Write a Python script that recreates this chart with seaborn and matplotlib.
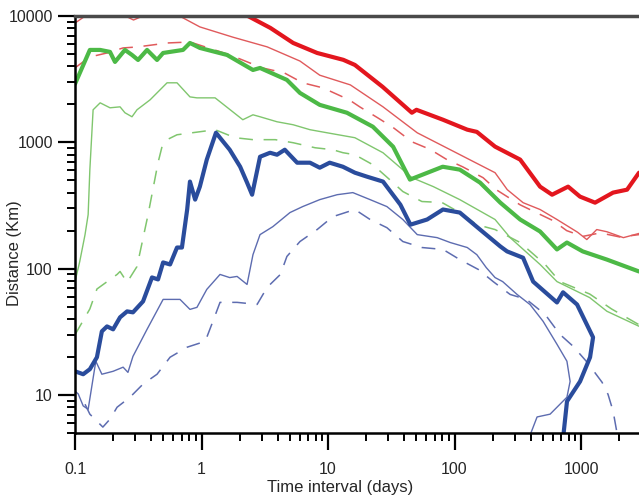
import matplotlib
matplotlib.use("Agg")
import matplotlib.pyplot as plt
from matplotlib.ticker import FuncFormatter, LogLocator
import seaborn as sns

# ---- data (x: days, y: km) ----
red_thick_x = [2.2, 3.5, 5.3, 8.2, 13.2, 16.3, 27, 46, 50, 81, 126, 150, 209, 330, 474, 590, 790, 980, 1290, 1790, 2310, 2870]
red_thick_y = [10300, 8050, 6120, 5100, 4500, 4100, 2750, 1715, 1810, 1510, 1260, 1210, 925, 730, 446, 385, 446, 372, 333, 400, 422, 575]

red_thin_x = [0.1, 0.124, 0.19, 0.25, 0.29, 0.36, 0.56, 0.67, 0.97, 1.77, 3.3, 6.0, 8.6, 15.0, 27.2, 50.7, 92.5, 209, 261, 348, 474, 645, 940, 1110, 1330, 1600, 2160, 2870]
red_thin_y = [8800, 10200, 9800, 10000, 9300, 10200, 10500, 10000, 8200, 6800, 5700, 4400, 3400, 2850, 1910, 1190, 874, 575, 422, 333, 294, 245, 194, 170, 204, 196, 176, 190]

red_dash_x = [0.1, 0.131, 0.179, 0.24, 0.31, 0.54, 0.81, 1.68, 3.0, 4.5, 6.3, 9.1, 14.7, 17.8, 24.8, 32.7, 46, 64, 87, 116, 168, 215, 330, 600, 770, 1030, 1420, 2030, 2870]
red_dash_y = [3890, 4740, 5100, 5590, 5690, 6120, 6230, 4920, 3890, 3550, 2960, 2700, 2170, 1910, 1560, 1310, 1010, 880, 730, 640, 525, 420, 320, 240, 200, 180, 192, 178, 186]

green_thick_x = [0.1, 0.131, 0.158, 0.189, 0.207, 0.248, 0.282, 0.315, 0.371, 0.445, 0.497, 0.714, 0.81, 0.97, 1.59, 2.55, 2.9, 4.73, 6.0, 8.6, 14.1, 22.6, 32.7, 44.4, 80.6, 110, 159, 230, 330, 474, 645, 773, 1030, 1600, 2870]
green_thick_y = [2900, 5390, 5390, 5200, 4330, 5390, 4920, 4490, 5390, 4490, 5100, 5390, 6120, 5590, 4920, 3740, 3880, 3120, 2460, 1980, 1715, 1330, 923, 507, 641, 608, 480, 333, 245, 197, 142, 161, 137, 118, 95]

green_thin_x = [0.1, 0.109, 0.120, 0.127, 0.131, 0.139, 0.158, 0.189, 0.227, 0.248, 0.282, 0.309, 0.392, 0.534, 0.64, 0.81, 0.92, 1.28, 2.12, 2.55, 2.9, 3.95, 5.3, 7.2, 9.8, 16.3, 27.2, 46.1, 68, 110, 209, 275, 474, 645, 1170, 1600, 2870]
green_thin_y = [79, 114, 186, 268, 608, 1810, 2055, 1877, 1910, 1715, 1594, 1810, 2170, 2960, 2960, 2290, 2250, 2250, 1510, 1652, 1594, 1455, 1378, 1259, 1191, 1088, 827, 525, 446, 352, 245, 176, 108, 79, 59, 46, 35]

green_dash_x = [0.1, 0.131, 0.149, 0.215, 0.227, 0.258, 0.309, 0.378, 0.453, 0.487, 0.534, 0.64, 0.97, 1.28, 1.84, 2.55, 3.83, 5.3, 7.9, 10.9, 13.1, 16.3, 22.6, 30.7, 39.0, 55.2, 79.5, 110, 150, 209, 330, 520, 680, 1170, 1740, 2870]
green_dash_y = [30, 48, 69, 90, 95, 78, 104, 268, 690, 923, 1050, 1148, 1213, 1259, 1088, 1050, 1050, 993, 906, 874, 828, 798, 665, 507, 408, 340, 334, 278, 223, 204, 161, 108, 79, 63, 48, 36]

blue_thick_x = [0.1, 0.116, 0.131, 0.149, 0.163, 0.179, 0.2, 0.227, 0.258, 0.287, 0.345, 0.406, 0.453, 0.497, 0.564, 0.64, 0.70, 0.77, 0.81, 0.89, 0.97, 1.10, 1.30, 1.67, 2.02, 2.29, 2.51, 2.9, 3.48, 3.95, 4.55, 5.7, 7.2, 8.6, 10.3, 13.1, 16.3, 20.3, 27.2, 37.3, 44.8, 60.7, 81, 110, 159, 230, 260, 348, 418, 645, 720, 930, 1244, 1178, 982, 774, 720]
blue_thick_y = [15.4, 14.6, 16.0, 19.9, 31.9, 34.9, 33.1, 41.2, 45.9, 45.1, 55.1, 85.2, 82.2, 112, 108, 147, 147, 294, 489, 352, 446, 729, 1191, 874, 641, 480, 385, 769, 827, 798, 874, 690, 690, 630, 690, 641, 575, 535, 489, 321, 223, 245, 294, 278, 204, 150, 137, 122, 79, 54, 65, 52, 28.6, 19.9, 12.8, 8.9, 4.5]

blue_thin_x = [0.1, 0.106, 0.116, 0.127, 0.146, 0.163, 0.2, 0.240, 0.262, 0.287, 0.371, 0.497, 0.676, 0.81, 0.92, 1.10, 1.40, 1.67, 1.91, 2.29, 2.55, 2.9, 3.66, 5.0, 6.3, 8.6, 11.8, 15.7, 21.5, 29.2, 39.0, 50.7, 72.9, 92.5, 126, 150, 178, 209, 240, 312, 395, 501, 645, 773, 819, 773, 569, 449, 395]
blue_thin_y = [10.7, 10.2, 8.2, 7.7, 18.5, 14.6, 15.4, 16.6, 15.1, 20.2, 33.1, 57.1, 57.1, 47.6, 49.4, 68.5, 90, 85, 86.8, 75, 129, 186, 215, 278, 310, 352, 385, 400, 352, 310, 245, 186, 176, 161, 147, 129, 102, 85, 79, 62.5, 52, 38.3, 25.2, 18.5, 12.8, 9.6, 7.05, 6.7, 4.8]

blue_dash_x = [0.120, 0.131, 0.166, 0.189, 0.215, 0.272, 0.345, 0.445, 0.564, 0.77, 1.07, 1.23, 1.40, 1.91, 2.75, 3.3, 4.2, 4.73, 6.0, 8.2, 10.9, 16.3, 21.5, 29.2, 39.0, 55.2, 81, 110, 154, 202, 275, 370, 520, 680, 865, 1115, 1466, 1634, 1791, 1960]
blue_dash_y = [8.45, 7.05, 5.57, 6.44, 8.0, 9.6, 12.2, 14.6, 19.9, 23.9, 26.6, 38.3, 54.1, 54.1, 52.1, 71.1, 90, 125, 164, 204, 258, 294, 245, 211, 164, 147, 142, 118, 98.6, 79, 62.5, 57.1, 43.4, 30.2, 24.3, 18.2, 12.6, 10.1, 7.45, 4.5]

RED, RED_L = "#e3161e", "#e05a5c"
GREEN, GREEN_L = "#4cb946", "#80c66e"
BLUE, BLUE_L = "#2a4c9c", "#5d6cb0"
DASH = (0, (9, 7))

sns.set_style("ticks")
plt.rcParams["font.family"] = ["Liberation Sans", "DejaVu Sans"]

fig = plt.figure(figsize=(6.39, 4.96), dpi=100)
ax = fig.add_axes([0.1174, 0.127, 0.8826, 0.8407])

def draw(x, y, color, lw, ls="-"):
    sns.lineplot(x=x, y=y, ax=ax, color=color, linewidth=lw, linestyle=ls,
                 sort=False, estimator=None, legend=False,
                 solid_joinstyle="round", solid_capstyle="round")

# thin / dashed first, thick on top
draw(red_dash_x, red_dash_y, RED_L, 1.1, DASH)
draw(red_thin_x, red_thin_y, RED_L, 1.0)
draw(green_dash_x, green_dash_y, GREEN_L, 1.1, DASH)
draw(green_thin_x, green_thin_y, GREEN_L, 1.0)
draw(blue_dash_x, blue_dash_y, BLUE_L, 1.1, DASH)
draw(blue_thin_x, blue_thin_y, BLUE_L, 1.0)
draw(red_thick_x, red_thick_y, RED, 3.0)
draw(green_thick_x, green_thick_y, GREEN, 3.0)
draw(blue_thick_x, blue_thick_y, BLUE, 3.0)

ax.set_xscale("log")
ax.set_yscale("log")
ax.set_xlim(0.1, 2870)
ax.set_ylim(5, 10000)

fmt = FuncFormatter(lambda v, p: f"{v:g}")
ax.xaxis.set_major_formatter(fmt)
ax.yaxis.set_major_formatter(fmt)
ax.xaxis.set_minor_locator(LogLocator(base=10, subs=range(2, 10), numticks=20))
ax.yaxis.set_minor_locator(LogLocator(base=10, subs=range(2, 10), numticks=20))
ax.xaxis.set_minor_formatter(FuncFormatter(lambda v, p: ""))
ax.yaxis.set_minor_formatter(FuncFormatter(lambda v, p: ""))

ax.tick_params(which="major", length=12, width=1.6, color="black", labelsize=11.5, pad=4)
ax.tick_params(axis="x", which="major", pad=9)
ax.tick_params(which="minor", length=6, width=1.4, color="black")

for s in ["left", "bottom"]:
    ax.spines[s].set_linewidth(1.8)
    ax.spines[s].set_color("black")
ax.spines["top"].set_linewidth(2.5)
ax.spines["top"].set_color("#4a4a4a")
ax.spines["right"].set_visible(False)

ax.set_xlabel("Time interval (days)", fontsize=12)
ax.set_ylabel("Distance (Km)", fontsize=12)
ax.xaxis.set_label_coords(0.47, -0.112)
ax.yaxis.set_label_coords(-0.094, 0.432)

fig.savefig("out.png", dpi=100)
